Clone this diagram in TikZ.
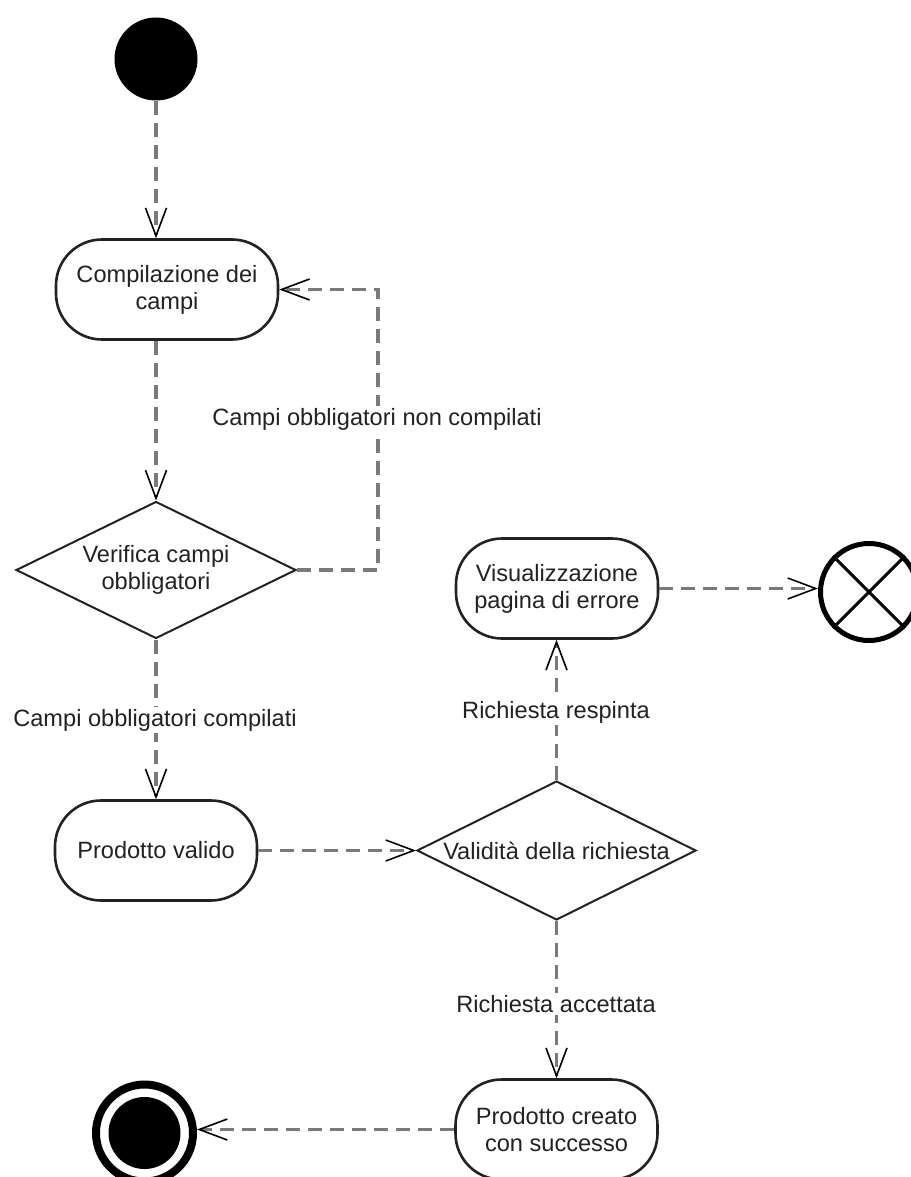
\documentclass[tikz,border=0pt]{standalone}
\usepackage{fontspec}
\setmainfont{Liberation Sans}
\usetikzlibrary{shapes.geometric,arrows.meta}
\definecolor{flowgray}{HTML}{7A7A7A}
\definecolor{inkdark}{HTML}{222222}
\begin{document}
\begin{tikzpicture}[x=1pt,y=-1pt,
  every node/.style={font=\fontsize{23.6}{27}\selectfont, text=inkdark},
  action/.style={draw=inkdark, line width=2.6pt, rounded corners=46pt, fill=white,
    align=center, inner sep=0pt, minimum width=202pt, minimum height=100pt},
  decision/.style={draw=inkdark, line width=2pt, diamond, aspect=2, inner sep=0pt,
    align=center, fill=white},
  flow/.style={draw=flowgray, line width=3.2pt, dash pattern=on 14pt off 8pt,
    -{Straight Barb[length=28pt, width=21pt, line width=1.6pt, color=black]}},
  guard/.style={fill=white, inner sep=2pt},
]
\useasboundingbox (0,0) rectangle (910,1177);

% start and end markers
\node[circle, fill=black, minimum size=83pt, inner sep=0pt] (init) at (156,59) {};
\node[circle, draw=black, line width=8pt, minimum size=97pt, inner sep=0pt] (fin) at (144.5,1133) {};
\node[circle, fill=black, minimum size=72pt, inner sep=0pt] (fincore) at (fin) {};
\node[circle, draw=black, line width=5pt, minimum size=97pt, inner sep=0pt, fill=white] (xend) at (869,592) {};
\draw[line width=3pt] (xend.north west) -- (xend.south east)
                      (xend.north east) -- (xend.south west);

% actions
\node[action, minimum width=222pt] (comp) at (167,289.5) {Compilazione dei\\campi};
\node[action] (pv) at (156,850.5) {Prodotto valido};
\node[action] (vis) at (557,588.5) {Visualizzazione\\pagina di errore};
\node[action] (pc) at (556.5,1129.5) {Prodotto creato\\con successo};

% decisions
\node[decision, minimum width=280pt, minimum height=137pt] (d1) at (156,570) {Verifica campi\\obbligatori};
\node[decision, minimum width=279pt, minimum height=139pt] (d2) at (556.5,850.5) {Validità della richiesta};

% control flows
\draw[flow] (init.south) -- (init.south |- comp.north);
\draw[flow] (init.south |- comp.south) -- (d1.north);
\draw[flow] (d1.east) -- ++(81,0) |- (comp.east);
\draw[flow] (d1.south) -- (pv.north);
\draw[flow] (pv.east) -- (d2.west);
\draw[flow] (d2.north) -- (d2.north |- vis.south);
\draw[flow] (vis.east) -- (vis.east -| xend.west);
\draw[flow] (d2.south) -- (d2.south |- pc.north);
\draw[flow] (pc.west) -- (pc.west -| fin.east);

% guards
\node[guard] (gnon) at (377,419) {Campi obbligatori non compilati};
\node[guard] (gok) at (155,720) {Campi obbligatori compilati};
\node[guard] (grej) at (556,712) {Richiesta respinta};
\node[guard] (gacc) at (556,1004) {Richiesta accettata};
\end{tikzpicture}
\end{document}
